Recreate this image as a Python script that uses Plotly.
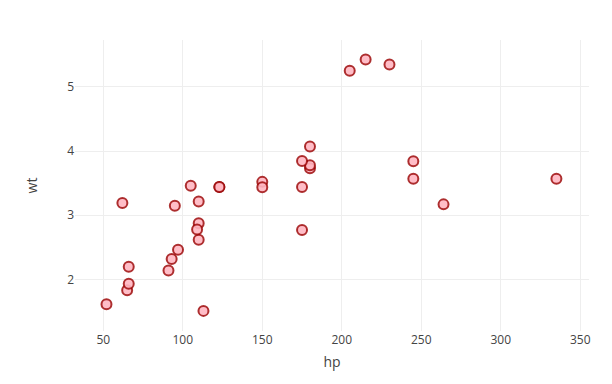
import plotly.graph_objects as go

hp = [110, 110, 93, 110, 175, 105, 245, 62, 95, 123, 123, 180, 180, 180, 205, 215,
      230, 66, 52, 65, 97, 150, 150, 245, 175, 66, 91, 113, 264, 175, 335, 109]
wt = [2.620, 2.875, 2.320, 3.215, 3.440, 3.460, 3.570, 3.190, 3.150, 3.440, 3.440,
      4.070, 3.730, 3.780, 5.250, 5.424, 5.345, 2.200, 1.615, 1.835, 2.465, 3.520,
      3.435, 3.840, 3.845, 1.935, 2.140, 1.513, 3.170, 2.770, 3.570, 2.780]

fig = go.Figure(go.Scatter(
    x=hp, y=wt, mode="markers",
    marker=dict(size=10, color="rgba(255, 182, 193, .9)",
                line=dict(color="rgba(152, 0, 0, .8)", width=2)),
))

fig.update_layout(
    template="none",
    width=612, height=384,
    margin=dict(l=75, r=23, t=40, b=53),
    paper_bgcolor="white", plot_bgcolor="white",
    font=dict(family="Open Sans", size=12, color="#444"),
    showlegend=False,
    xaxis=dict(title=dict(text="hp", font=dict(size=14), standoff=10),
               automargin=True, range=[32.2, 355.5],
               dtick=50, showgrid=True, gridcolor="#eee", zeroline=False,
               showline=False, ticks=""),
    yaxis=dict(title=dict(text="wt", font=dict(size=14)), range=[1.2, 5.727],
               dtick=1, showgrid=True, gridcolor="#eee", zeroline=False,
               showline=False, ticks=""),
)

fig.write_html("out.html", config={"displayModeBar": False},
               post_script="document.body.style.margin='0';")
